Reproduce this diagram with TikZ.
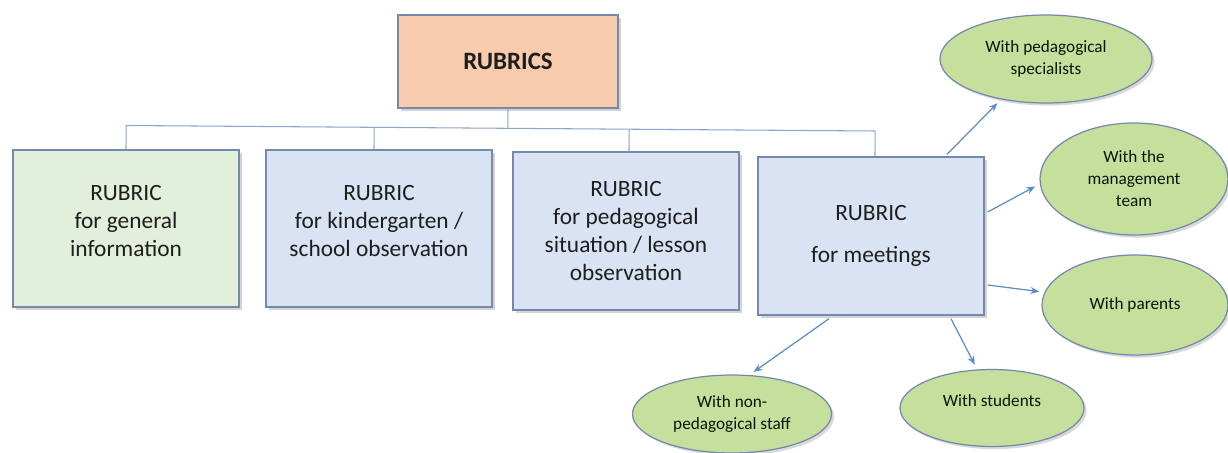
\documentclass[tikz,border=0pt]{standalone}
\usepackage{fontspec}
\setmainfont{Carlito}
\usetikzlibrary{shapes.geometric,shadows,calc,arrows.meta}
\definecolor{peach}{RGB}{248,203,173}
\definecolor{lgreen}{RGB}{226,239,218}
\definecolor{lblue}{RGB}{218,227,243}
\definecolor{egreen}{RGB}{197,224,156}
\definecolor{bord}{RGB}{118,136,172}
\definecolor{busc}{RGB}{140,165,205}
\definecolor{arrc}{RGB}{91,140,200}
\definecolor{txt}{RGB}{30,30,30}
\begin{document}
\begin{tikzpicture}[x=0.02cm,y=-0.02cm,
  boxshape/.style={rectangle,draw=bord,line width=0.8pt,minimum width=4.52cm,minimum height=3.14cm,
    align=center,text=txt,font=\fontsize{13.3}{15.9}\selectfont,inner sep=2pt,
    drop shadow={shadow xshift=1.5pt,shadow yshift=-1.5pt,opacity=0.35}},
  ell/.style={ellipse,draw=bord,line width=0.7pt,fill=egreen,inner sep=0pt,align=center,
    text=txt!80!green!30!black,font=\fontsize{9.8}{12.5}\selectfont,
    drop shadow={shadow xshift=1.5pt,shadow yshift=-1.5pt,opacity=0.3}},
  bus/.style={draw=busc,line width=0.6pt},
  arr/.style={draw=arrc,line width=0.7pt,-{Stealth[length=5pt,width=4pt]},shorten >=3pt}]
\useasboundingbox (0,0) rectangle (1228,453);

\node[boxshape,fill=peach,minimum width=4.4cm,minimum height=1.86cm,
  font=\bfseries\fontsize{14.2}{17}\selectfont] (r) at (508,61.5) {RUBRICS};

\node[boxshape,fill=lgreen] (b1) at (126,228.5) {RUBRIC\\for general\\information\\[-6.9pt]\mbox{}};
\node[boxshape,fill=lblue] (b2) at (379,228.5) {RUBRIC\\for kindergarten /\\school observation\\[-6.9pt]\mbox{}};
\node[boxshape,fill=lblue,minimum height=3.16cm] (b3) at (626,231) {RUBRIC\\for pedagogical\\situation / lesson\\observation};
\node[boxshape,fill=lblue,minimum height=3.16cm] (m) at (871,236) {RUBRIC\\[8pt]for meetings};

\node[ell,minimum width=4.24cm,minimum height=1.76cm] (e1) at (1046,59) {With pedagogical\\specialists};
\node[ell,minimum width=3.76cm,minimum height=2.24cm] (e2) at (1134,179) {With the\\management\\team};
\node[ell,minimum width=3.72cm,minimum height=2.0cm] (e3) at (1135,305) {With parents};
\node[ell,minimum width=3.98cm,minimum height=1.56cm] (e4) at (732,414) {With non-\\pedagogical staff};
\node[ell,minimum width=3.68cm,minimum height=1.54cm] (e5) at (992,408) {With students\\[-4pt]\mbox{}};

\coordinate (busL) at (126,125.5);
\coordinate (busR) at (875,131);
\draw[bus] (busL) -- (busR);
\draw[bus] (r.south) -- ($(busL)!(r.south)!(busR)$);
\draw[bus] (b1.north) -- ($(busL)!(b1.north)!(busR)$);
\draw[bus] ($(b2.north)+(-5,0)$) -- ($(busL)!($(b2.north)+(-5,0)$)!(busR)$);
\draw[bus] ($(b3.north)+(3,0)$) -- ($(busL)!($(b3.north)+(3,0)$)!(busR)$);
\draw[bus] ($(m.north)+(4,0)$) -- ($(busL)!($(m.north)+(4,0)$)!(busR)$);

\draw[arr] ($(m.north)+(76,-2)$) -- (e1.222);
\draw[arr] ($(m.east)+(3,-24)$) -- (e2.183);
\draw[arr] ($(m.east)+(3,49)$) -- (e3.172);
\draw[arr] ($(m.south)+(-42,3)$) -- (e4.66);
\draw[arr] ($(m.south)+(80,3)$) -- (e5.111);
\end{tikzpicture}
\end{document}
